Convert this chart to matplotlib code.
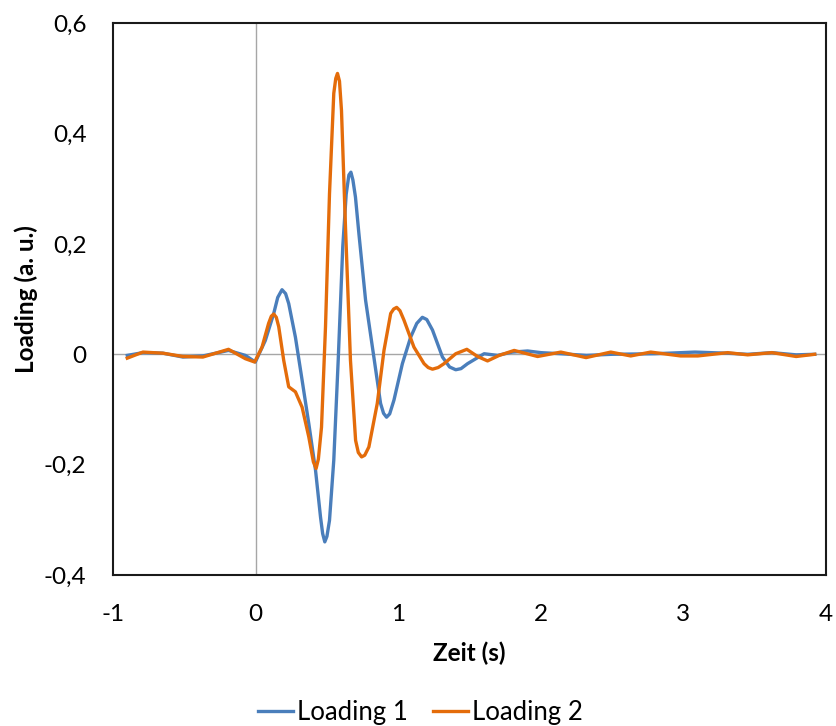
import matplotlib.pyplot as plt
from matplotlib.ticker import FuncFormatter

plt.rcParams['font.family'] = ['Lato', 'DejaVu Sans']
plt.rcParams['axes.unicode_minus'] = False

# Loading 1 (blau)
zeit_1 = [-0.90, -0.79, -0.65, -0.51, -0.37, -0.19, -0.072, -0.002, 0.068, 0.127,
          0.155, 0.185, 0.21, 0.232, 0.279, 0.326, 0.373, 0.42, 0.455, 0.47,
          0.485, 0.50, 0.518, 0.548, 0.579, 0.611, 0.635, 0.654, 0.668, 0.682,
          0.70, 0.724, 0.771, 0.829, 0.876, 0.897, 0.918, 0.94, 0.970, 1.029,
          1.087, 1.13, 1.169, 1.20, 1.240, 1.310, 1.36, 1.403, 1.44, 1.486,
          1.602, 1.696, 1.80, 1.907, 2.00, 2.14, 2.32, 2.50, 2.80, 3.08,
          3.30, 3.45, 3.62, 3.79, 3.92]
loading_1 = [-0.002, 0.003, 0.002, -0.005, -0.003, 0.007, -0.002, -0.014, 0.025, 0.074,
             0.103, 0.117, 0.110, 0.092, 0.031, -0.047, -0.126, -0.210, -0.295, -0.325,
             -0.340, -0.330, -0.301, -0.192, -0.011, 0.195, 0.290, 0.325, 0.330, 0.316,
             0.285, 0.219, 0.098, -0.005, -0.089, -0.107, -0.114, -0.108, -0.083, -0.017,
             0.031, 0.056, 0.067, 0.063, 0.044, -0.005, -0.023, -0.028, -0.026, -0.017,
             0.001, -0.002, 0.004, 0.006, 0.003, 0.001, -0.002, 0.000, 0.001, 0.004,
             0.002, 0.000, 0.003, -0.001, 0.000]

# Loading 2 (orange)
zeit_2 = [-0.90, -0.79, -0.65, -0.51, -0.37, -0.19, -0.072, -0.007, 0.045, 0.091,
          0.11, 0.127, 0.145, 0.162, 0.197, 0.232, 0.279, 0.326, 0.373, 0.405,
          0.424, 0.44, 0.462, 0.490, 0.518, 0.548, 0.562, 0.574, 0.588, 0.602,
          0.630, 0.665, 0.701, 0.72, 0.743, 0.765, 0.794, 0.853, 0.900, 0.947,
          0.968, 0.989, 1.012, 1.040, 1.110, 1.181, 1.21, 1.240, 1.28, 1.321,
          1.403, 1.481, 1.556, 1.626, 1.708, 1.813, 1.977, 2.14, 2.317, 2.49,
          2.63, 2.77, 2.98, 3.10, 3.31, 3.45, 3.62, 3.79, 3.92]
loading_2 = [-0.007, 0.004, 0.002, -0.004, -0.005, 0.009, -0.008, -0.014, 0.013, 0.056,
             0.069, 0.073, 0.067, 0.050, -0.011, -0.059, -0.068, -0.096, -0.150, -0.195,
             -0.207, -0.190, -0.132, 0.050, 0.291, 0.473, 0.500, 0.509, 0.495, 0.442,
             0.231, -0.011, -0.156, -0.178, -0.186, -0.183, -0.168, -0.089, 0.007, 0.074,
             0.082, 0.085, 0.079, 0.062, 0.013, -0.017, -0.024, -0.027, -0.024, -0.017,
             0.001, 0.009, -0.004, -0.012, -0.002, 0.007, -0.004, 0.004, -0.006, 0.004,
             -0.003, 0.004, -0.003, -0.003, 0.003, -0.001, 0.003, -0.004, 0.000]

fig = plt.figure(figsize=(8.37, 7.26), dpi=100)
ax = fig.add_axes([0.135, 0.208, 0.852, 0.760])

ax.axhline(0, color='#a6a6a6', lw=1, zorder=1)
ax.axvline(0, color='#a6a6a6', lw=1, zorder=1)

ax.plot(zeit_1, loading_1, color='#4a7ebb', lw=2.4, label='Loading 1', zorder=3)
ax.plot(zeit_2, loading_2, color='#e46c0a', lw=2.4, label='Loading 2', zorder=4)

ax.set_xlim(-1, 4)
ax.set_ylim(-0.4, 0.6)
ax.set_xticks([-1, 0, 1, 2, 3, 4])
ax.set_yticks([-0.4, -0.2, 0, 0.2, 0.4, 0.6])

def komma(v, pos):
    if abs(v) < 1e-9:
        return '0'
    return f'{v:.1f}'.replace('.', ',')

ax.yaxis.set_major_formatter(FuncFormatter(komma))
ax.tick_params(length=0, labelsize=17.5, colors='black')
ax.tick_params(axis='y', pad=19)
ax.tick_params(axis='x', pad=21)

for s in ax.spines.values():
    s.set_color('#1a1a1a')
    s.set_linewidth(1.5)

ax.set_xlabel('Zeit (s)', fontsize=17.5, fontweight='bold', labelpad=12)
ax.set_ylabel('Loading (a. u.)', fontsize=17.5, fontweight='bold', labelpad=4)

fig.legend(loc='center', bbox_to_anchor=(0.502, 0.019), ncol=2, frameon=False,
           fontsize=18.5, handlelength=1.35, handletextpad=0.15, columnspacing=1.0,
           borderpad=0)

plt.savefig('out.png', dpi=100)
